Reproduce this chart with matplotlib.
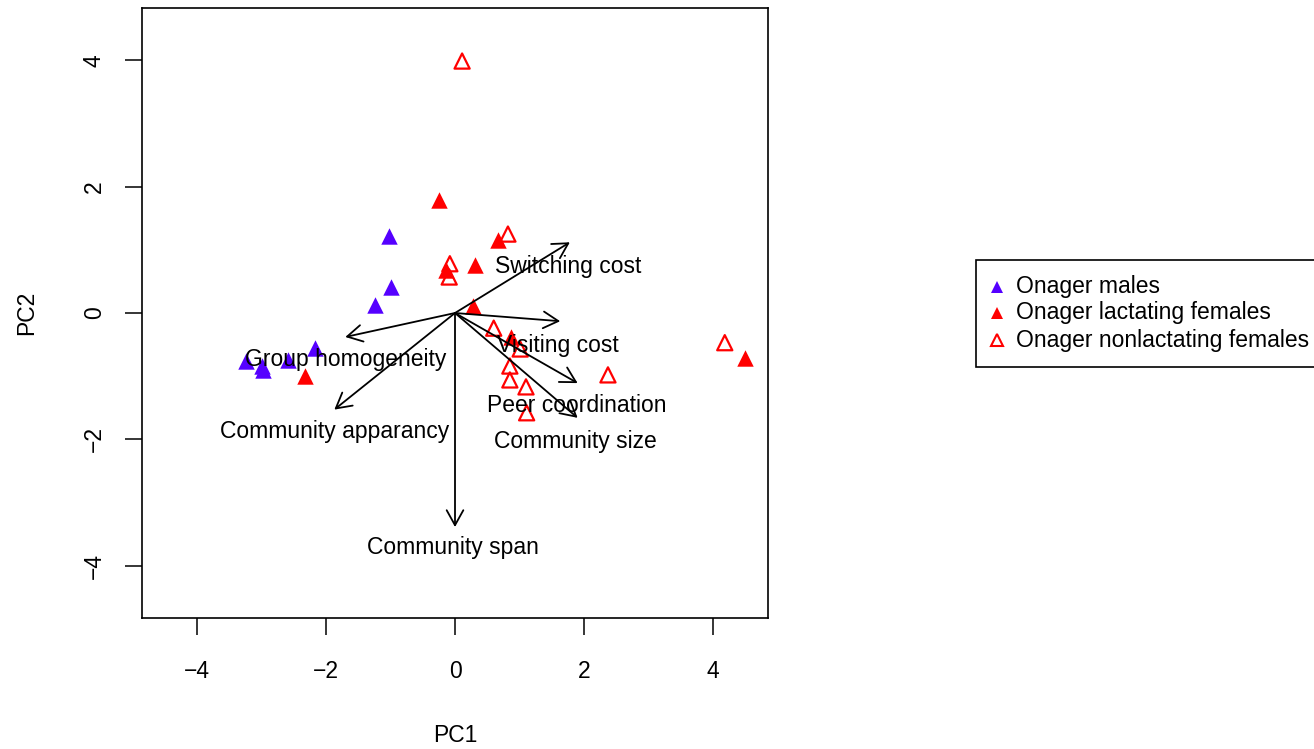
import matplotlib
matplotlib.use('Agg')
import matplotlib.pyplot as plt
from matplotlib.patches import Rectangle

plt.rcParams['font.family'] = ['Liberation Sans', 'DejaVu Sans']

# pontos (PC1, PC2) por grupo
males_x = [-1.02, -0.99, -1.24, -2.17, -2.59, -3.24, -2.99, -2.97]
males_y = [1.22, 0.41, 0.13, -0.55, -0.74, -0.76, -0.84, -0.90]

lact_x = [-0.25, 0.67, 0.31, -0.14, 0.28, -2.32, 0.87, 4.49]
lact_y = [1.79, 1.16, 0.76, 0.68, 0.11, -1.00, -0.38, -0.71]

nonlact_x = [0.11, 0.82, -0.08, -0.09, 0.60, 1.01, 0.85, 0.85, 1.10, 2.37, 1.11, 4.18]
nonlact_y = [3.99, 1.25, 0.78, 0.57, -0.24, -0.57, -0.84, -1.06, -1.17, -0.98, -1.58, -0.47]

# setas das variaveis (ponta) e posicao dos rotulos
var_names = ['Switching cost', 'Visiting cost', 'Peer coordination', 'Community size',
             'Community span', 'Community apparancy', 'Group homogeneity']
arrow_x = [1.78, 1.63, 1.90, 1.90, 0.0, -1.87, -1.70]
arrow_y = [1.12, -0.13, -1.11, -1.66, -3.39, -1.53, -0.38]
label_x = [1.75, 1.60, 1.89, 1.87, -0.03, -1.86, -1.70]
label_y = [0.74, -0.52, -1.46, -2.03, -3.72, -1.88, -0.74]

legend_labels = ['Onager males', 'Onager lactating females', 'Onager nonlactating females']

purple = '#5500ff'
red = '#ff0000'
fs = 16.5
W, H = 1314, 749

fig = plt.figure(figsize=(W / 100, H / 100), dpi=100)
ax = fig.add_axes([142 / W, 1 - 618 / H, (768 - 142) / W, (618 - 8) / H])

ms = 140
ax.scatter(males_x, males_y, marker='^', s=ms, color=purple, linewidths=0, zorder=3)
ax.scatter(lact_x, lact_y, marker='^', s=ms, color=red, linewidths=0, zorder=3)
ax.scatter(nonlact_x, nonlact_y, marker='^', s=ms * 0.85, facecolors='none',
           edgecolors=red, linewidths=1.6, zorder=3)

for nome, ax_, ay_, lx, ly in zip(var_names, arrow_x, arrow_y, label_x, label_y):
    ax.annotate('', xy=(ax_, ay_), xytext=(0, 0),
                arrowprops=dict(arrowstyle='->,head_length=1.08,head_width=0.6',
                                color='black', lw=1.3, shrinkA=0, shrinkB=0), zorder=4)
    ax.text(lx, ly, nome, ha='center', va='center', fontsize=fs, zorder=5)

ax.set_xlim(-4.85, 4.85)
ax.set_ylim(-4.83, 4.83)
ax.set_xticks([-4, -2, 0, 2, 4])
ax.set_yticks([-4, -2, 0, 2, 4])
ax.set_xticklabels(['\u22124', '\u22122', '0', '2', '4'])
ax.set_yticklabels(['\u22124', '\u22122', '0', '2', '4'], rotation=90, va='center')
ax.tick_params(direction='out', length=12, width=1.1, labelsize=fs)
ax.tick_params(axis='x', pad=18)
ax.tick_params(axis='y', pad=14)
for s in ax.spines.values():
    s.set_linewidth(1.2)
ax.set_xlabel('PC1', fontsize=fs, labelpad=30)
ax.set_ylabel('PC2', fontsize=fs, labelpad=32)

# legenda desenhada a mao (estilo R), cortada na borda direita
def fx(px):
    return px / W

def fy(py):
    return 1 - py / H

fig.patches.append(Rectangle((fx(976), fy(367)), fx(1340) - fx(976), fy(260) - fy(367),
                             transform=fig.transFigure, facecolor='white',
                             edgecolor='black', linewidth=1.2, clip_on=False))
rows = [287, 313, 340]
estilos = [dict(color=purple, markeredgewidth=0, markersize=8.5),
           dict(color=red, markeredgewidth=0, markersize=8.5),
           dict(markerfacecolor='none', markeredgecolor=red, markeredgewidth=1.5, markersize=8)]
for rotulo, py, est in zip(legend_labels, rows, estilos):
    fig.add_artist(plt.Line2D([fx(997)], [fy(py)], marker='^', linestyle='none',
                              transform=fig.transFigure, **est))
    fig.text(fx(1016), fy(py), rotulo, ha='left', va='center', fontsize=fs)

fig.savefig('out.png', dpi=100)
